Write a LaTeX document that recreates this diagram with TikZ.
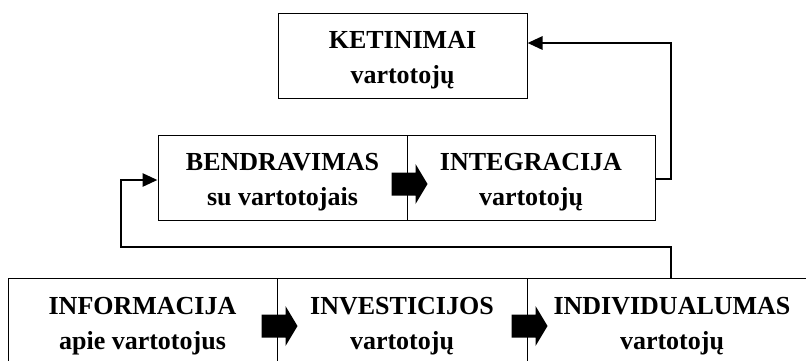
\documentclass[tikz,border=0pt]{standalone}
\usepackage{fontspec}
\setmainfont{Liberation Serif}
\usetikzlibrary{arrows.meta}

\begin{document}
\begin{tikzpicture}[x=1pt,y=-1pt,
  box/.style={draw, line width=1pt, inner sep=0pt},
  lbl/.style={inner sep=0pt, align=center,
    font=\fontsize{26}{35}\selectfont\bfseries},
  conn/.style={line width=2.8pt},
  tip/.style={-{Triangle[length=15pt,width=13pt]}},
  barrow/.pic={\fill (-16,-11.5) -- (8,-11.5) -- (8,-20) -- (20,0)
                 -- (8,20) -- (8,11.5) -- (-16,11.5) -- cycle;}]
\useasboundingbox (0,0) rectangle (806,360);

% top level
\node[box, minimum width=249pt, minimum height=85pt] (ket) at (402.5,55.5) {};
\node[lbl] (ket-l) at ([yshift=-5pt]ket.center) {KETINIMAI\\vartotojų};

% middle level
\node[box, minimum width=249pt, minimum height=85pt] (bend) at (282.5,177.5) {};
\node[box, minimum width=248pt, minimum height=85pt] (integ) at (531,177.5) {};
\node[lbl] (bend-l) at ([yshift=-5pt]bend.center) {BENDRAVIMAS\\su vartotojais};
\node[lbl] (integ-l) at ([yshift=-5pt]integ.center) {INTEGRACIJA\\vartotojų};

% bottom level (runs past the page edge)
\node[box, minimum width=269pt, minimum height=94pt] (info) at (142.5,325) {};
\node[box, minimum width=250pt, minimum height=94pt] (invest) at (402,325) {};
\node[box, minimum width=290pt, minimum height=94pt] (indiv) at (672,325) {};
\node[lbl] (info-l) at ([yshift=-1pt]info.center) {INFORMACIJA\\apie vartotojus};
\node[lbl] (invest-l) at ([yshift=-1pt]invest.center) {INVESTICIJOS\\vartotojų};
\node[lbl] (indiv-l) at ([yshift=-1pt]indiv.center) {INDIVIDUALUMAS\\vartotojų};

% block arrows across the shared edges
\pic (a1) at (bend.east |- 0,184) {barrow};
\pic (a2) at (info.east |- 0,326) {barrow};
\pic (a3) at (invest.east |- 0,326) {barrow};

% feedback connectors
\coordinate (upR) at (671,43);
\draw[conn,tip] (integ.east |- 0,179) -| (upR) -- (ket.east |- upR);

\coordinate (lowL) at (121,247);
\draw[conn,tip] (indiv.north -| upR) |- (lowL) |- (bend.west |- 0,180);
\end{tikzpicture}
\end{document}
